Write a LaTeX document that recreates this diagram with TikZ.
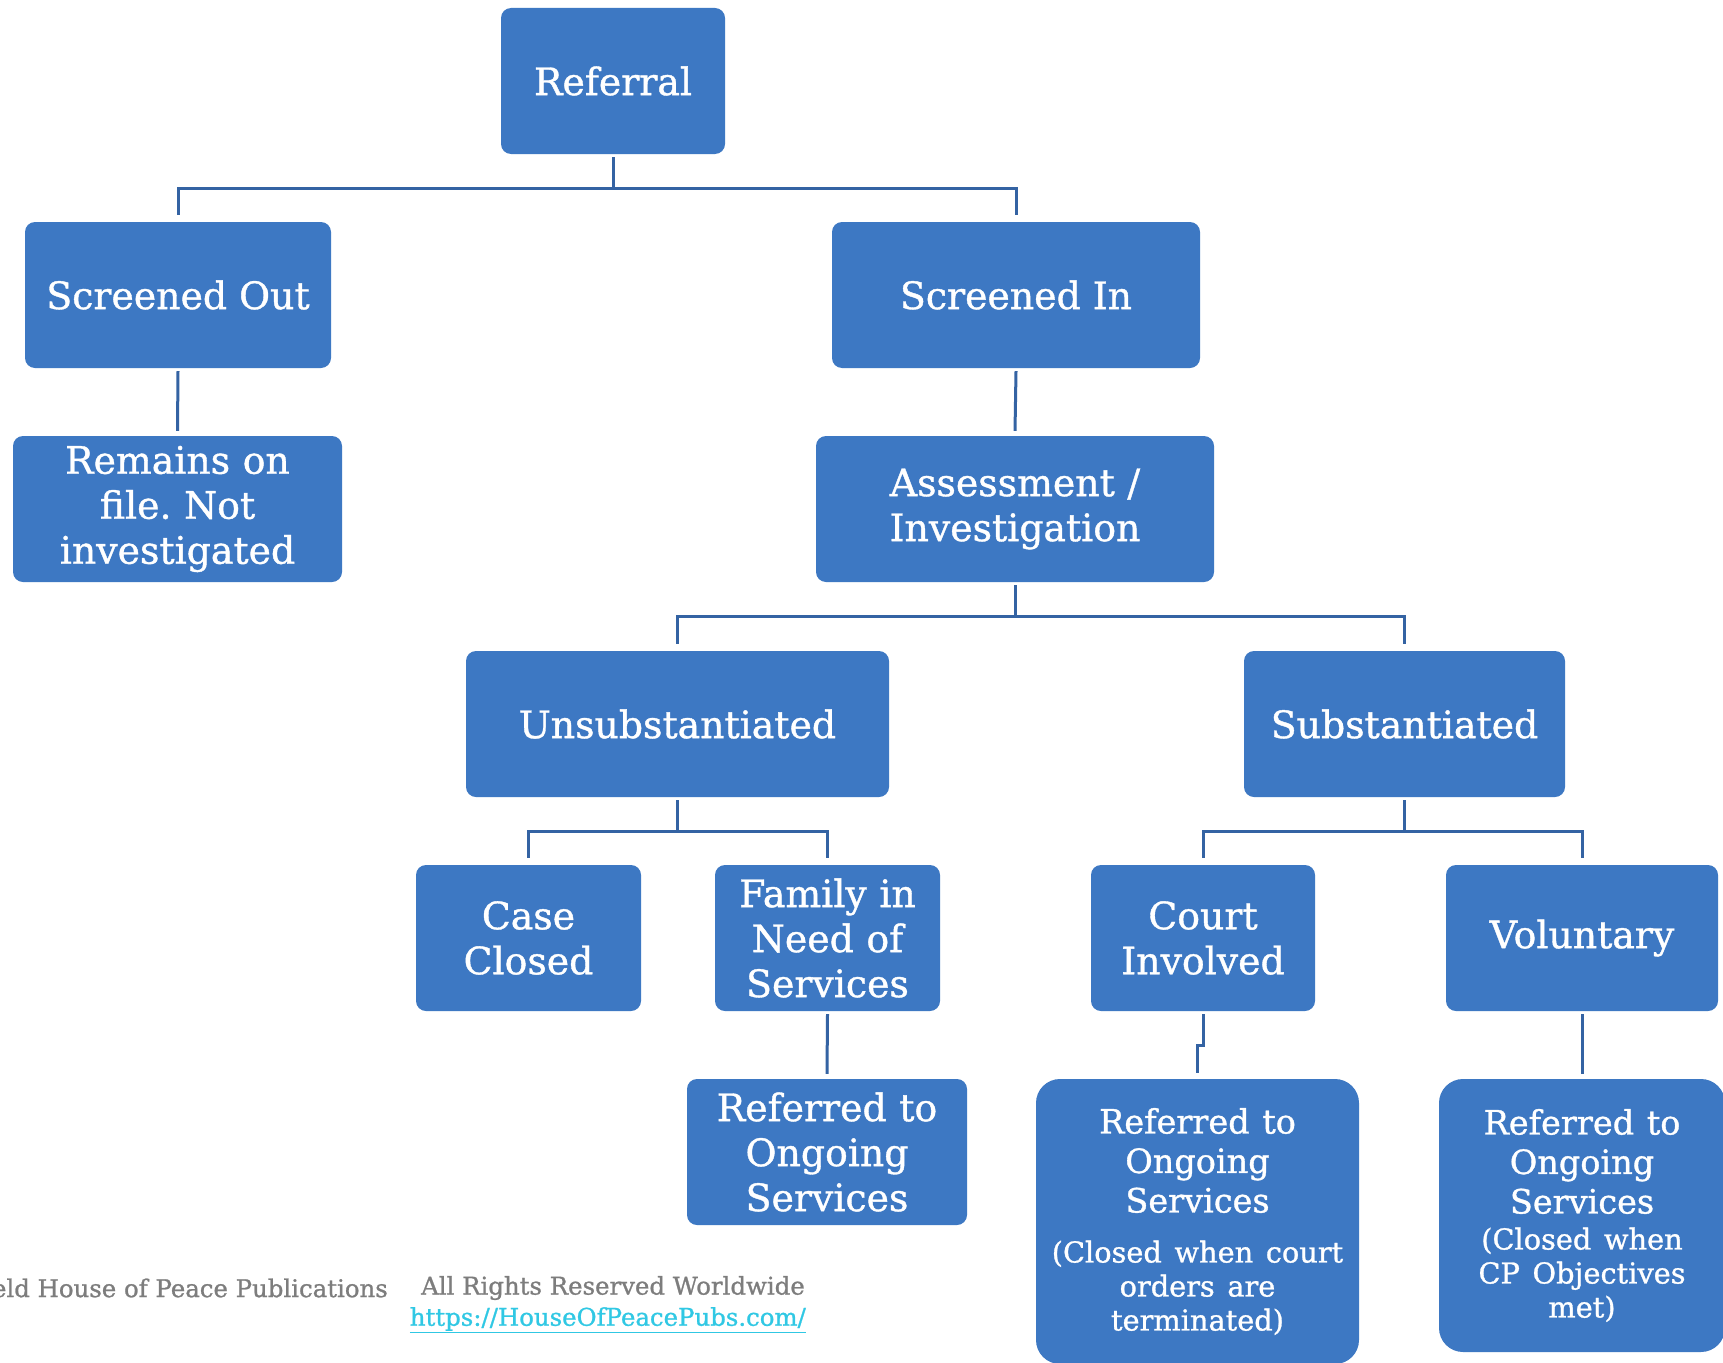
\documentclass[tikz,border=0pt]{standalone}
\usepackage{fontspec}
\setmainfont[FakeBold=1]{DejaVu Serif}
\usetikzlibrary{calc}
\definecolor{boxblue}{RGB}{61,120,195}
\definecolor{lineblue}{RGB}{52,99,163}
\definecolor{footgray}{RGB}{125,125,125}
\definecolor{linkcyan}{RGB}{48,200,228}
\newcommand{\bigtxt}{\fontsize{37.8}{45}\selectfont}
\newcommand{\midtxt}{\fontsize{33.5}{39.5}\selectfont}
\newcommand{\smalltxt}{\fontsize{28.8}{34}\selectfont}
\tikzset{
  box/.style={rectangle, rounded corners=10pt, fill=boxblue, text=white,
    align=center, inner sep=0pt, font=\bigtxt},
  tallbox/.style={box, rounded corners=24pt},
  conn/.style={draw=lineblue, line width=3pt},
  foot/.style={inner sep=0pt, text=footgray, font=\fontsize{24.4}{28}\selectfont},
  weblink/.style={inner sep=0pt, text=linkcyan, font=\fontsize{24.4}{28}\selectfont}
}
\begin{document}
\frenchspacing
\begin{tikzpicture}[x=1pt, y=-1pt]
\fill[white] (0,0) rectangle (1723,1362);
\useasboundingbox (0,0) rectangle (1723,1362);

% level 0 and 1
\node[box, minimum width=224pt, minimum height=146pt] (ref) at (613,81) {Referral};
\node[box, minimum width=306pt, minimum height=146pt] (so) at (178,295) {Screened Out};
\node[box, minimum width=368pt, minimum height=146pt] (si) at (1016,295) {Screened In};

% level 2
\node[box, minimum width=329pt, minimum height=146pt, text width=320pt] (rem) at (177.5,509) {Remains on\\file. Not\\investigated};
\node[box, minimum width=398pt, minimum height=146pt, text width=390pt] (as) at (1015,509) {Assessment /\\Investigation};

% level 3
\node[box, minimum width=423pt, minimum height=146pt] (uns) at (677.5,724) {Unsubstantiated};
\node[box, minimum width=321pt, minimum height=146pt] (sub) at (1404.5,724) {Substantiated};

% level 4
\node[box, minimum width=225pt, minimum height=146pt, text width=220pt] (cc) at (528.5,938) {Case\\Closed};
\node[box, minimum width=225pt, minimum height=146pt, text width=220pt] (fins) at (827.5,938) {Family in\\Need of\\Services};
\node[box, minimum width=224pt, minimum height=146pt, text width=220pt] (court) at (1203,938) {Court\\Involved};
\node[box, minimum width=272pt, minimum height=146pt] (vol) at (1582,938) {Voluntary};

% level 5
\node[box, minimum width=280pt, minimum height=146pt, text width=276pt] (rfins) at (827,1152) {Referred to\\Ongoing\\Services};
\node[tallbox, minimum width=323pt, minimum height=285pt, text width=318pt] (rcourt) at (1197.5,1221.5)
  {{\midtxt Referred to\\Ongoing\\Services\par}\vspace{16pt}{\smalltxt (Closed when court\\orders are\\terminated)\par}};
\node[tallbox, minimum width=286pt, minimum height=273pt, text width=282pt] (rvol) at (1582,1215.5)
  {{\midtxt Referred to\\Ongoing\\Services\par}\vspace{2pt}{\smalltxt (Closed when\\CP Objectives\\met)\par}};

% connectors
\draw[conn] ([yshift=-3pt]ref.south) -- ++(0,-31pt) coordinate (b1);
\draw[conn] ([yshift=7pt]so.north) |- (b1) -| ([yshift=7pt]si.north);
\draw[conn] ([yshift=-3pt]so.south) -- ([yshift=5pt]rem.north);
\draw[conn] ([yshift=-3pt]si.south) -- ([yshift=5pt]as.north);
\draw[conn] ([yshift=-3pt]as.south) -- ++(0,-31pt) coordinate (b2);
\draw[conn] ([yshift=7pt]uns.north) |- (b2) -| ([yshift=7pt]sub.north);
\draw[conn] ([yshift=-3pt]uns.south) -- ++(0,-31pt) coordinate (b3);
\draw[conn] ([yshift=7pt]cc.north) |- (b3) -| ([yshift=7pt]fins.north);
\draw[conn] ([yshift=-3pt]sub.south) -- ++(0,-31pt) coordinate (b4);
\draw[conn] ([yshift=7pt]court.north) |- (b4) -| ([yshift=7pt]vol.north);
\draw[conn] ([yshift=-3pt]fins.south) -- ([yshift=5pt]rfins.north);
\draw[conn] ([yshift=-3pt]court.south) -- ++(0,-31pt) -| ([yshift=6pt]rcourt.north);
\draw[conn] ([yshift=-3pt]vol.south) -- ([yshift=5pt]rvol.north);

% footer
\node[foot, anchor=east] (pub) at (388,1288) {eld House of Peace Publications};
\node[foot, anchor=west] (rights) at (421,1288) {All Rights Reserved Worldwide};
\node[weblink, anchor=east] (url) at (806,1320) {\underline{https://HouseOfPeacePubs.com/}};
\end{tikzpicture}
\end{document}
